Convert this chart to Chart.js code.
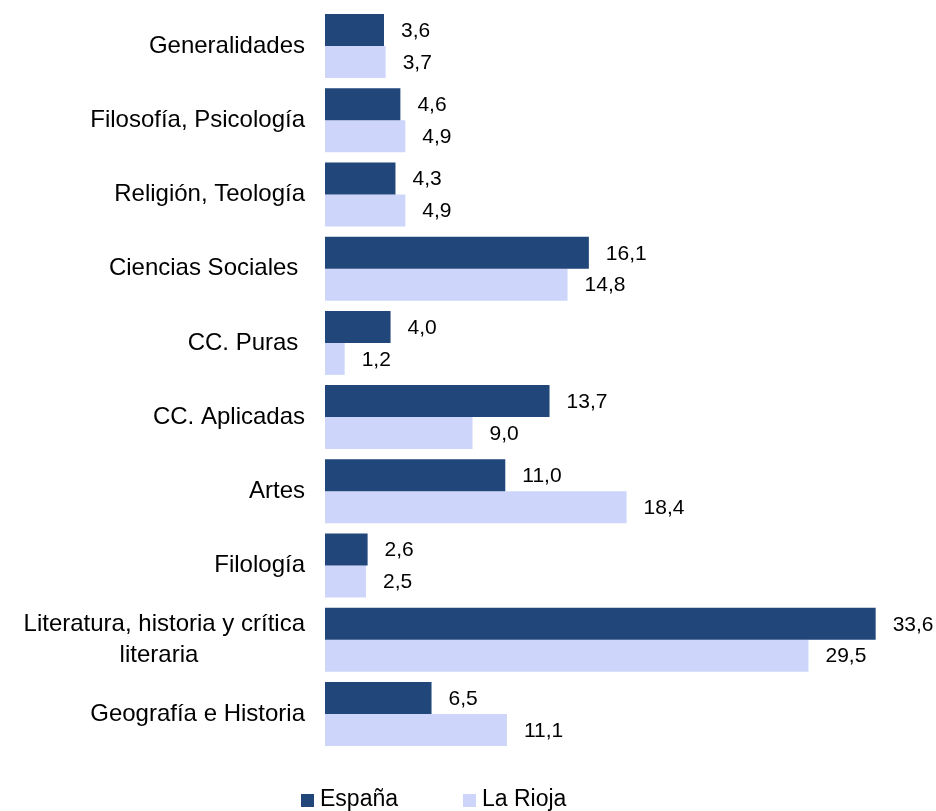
<!DOCTYPE html>
<html>
<head>
<meta charset="utf-8">
<script src="https://cdn.jsdelivr.net/npm/chart.js@4/dist/chart.umd.min.js"></script>
<style>
  html, body { margin: 0; padding: 0; background: #fff; }
  #wrap { width: 936px; height: 811px; position: relative; }
</style>
</head>
<body>
<div id="wrap"><canvas id="chart"></canvas></div>
<script>
// data
const categories = [
    'Generalidades',
    'Filosofía, Psicología',
    'Religión, Teología',
    'Ciencias Sociales ',
    'CC. Puras ',
    'CC. Aplicadas',
    'Artes',
    'Filología',
    // second line is centred under the first in the original
    ['Literatura, historia y crítica', 'literaria' + '\u00a0'.repeat(16)],
    'Geografía e Historia'
];
const espana  = [3.6, 4.6, 4.3, 16.1, 4.0, 13.7, 11.0, 2.6, 33.6, 6.5];
const laRioja = [3.7, 4.9, 4.9, 14.8, 1.2, 9.0, 18.4, 2.5, 29.5, 11.1];
const seriesNames = ['España', 'La Rioja'];

const DARK  = '#21467a';
const LIGHT = '#cdd6fa';
const FONT  = "'Liberation Sans', Arial, Helvetica, sans-serif";

const fmt = v => v.toFixed(1).replace('.', ',');

// value labels to the right of each bar
const valueLabels = {
    id: 'valueLabels',
    afterDatasetsDraw(chart) {
        const ctx = chart.ctx;
        ctx.save();
        ctx.font = `21px ${FONT}`;
        ctx.fillStyle = '#000';
        ctx.textAlign = 'left';
        ctx.textBaseline = 'middle';
        chart.data.datasets.forEach((ds, i) => {
            chart.getDatasetMeta(i).data.forEach((bar, j) => {
                ctx.fillText(fmt(ds.data[j]), bar.x + 17, bar.y + 1);
            });
        });
        ctx.restore();
    }
};

// legend row at the bottom
const bottomLegend = {
    id: 'bottomLegend',
    afterDraw(chart) {
        const ctx = chart.ctx;
        const xs = [301, 463];
        const y  = 800;
        ctx.save();
        ctx.font = `23px ${FONT}`;
        ctx.textBaseline = 'middle';
        ctx.textAlign = 'left';
        chart.data.datasets.forEach((ds, i) => {
            ctx.fillStyle = ds.backgroundColor;
            ctx.fillRect(xs[i], y - 6, 13, 13);
            ctx.fillStyle = '#000';
            ctx.fillText(ds.label, xs[i] + 19, y);
        });
        ctx.restore();
    }
};

new Chart(document.getElementById('chart'), {
    type: 'bar',
    data: {
        labels: categories,
        datasets: [
            { label: seriesNames[0], data: espana,  backgroundColor: DARK },
            { label: seriesNames[1], data: laRioja, backgroundColor: LIGHT }
        ]
    },
    options: {
        indexAxis: 'y',
        responsive: true,
        maintainAspectRatio: false,
        animation: false,
        layout: { padding: { top: 9, right: 21, bottom: 60, left: 0 } },
        datasets: {
            bar: { categoryPercentage: 0.862, barPercentage: 1.0 }
        },
        scales: {
            x: {
                display: false,
                min: 0,
                max: 36
            },
            y: {
                grid: { display: false },
                border: { display: false },
                ticks: {
                    color: '#000',
                    padding: 12,
                    font: { family: FONT, size: 24, lineHeight: 1.3 }
                },
                afterFit: scale => {
                    scale.width = 325;
                    scale.paddingTop = 0;
                    scale.paddingBottom = 0;
                }
            }
        },
        plugins: {
            legend: { display: false },
            tooltip: { enabled: false }
        }
    },
    plugins: [valueLabels, bottomLegend]
});
</script>
</body>
</html>
